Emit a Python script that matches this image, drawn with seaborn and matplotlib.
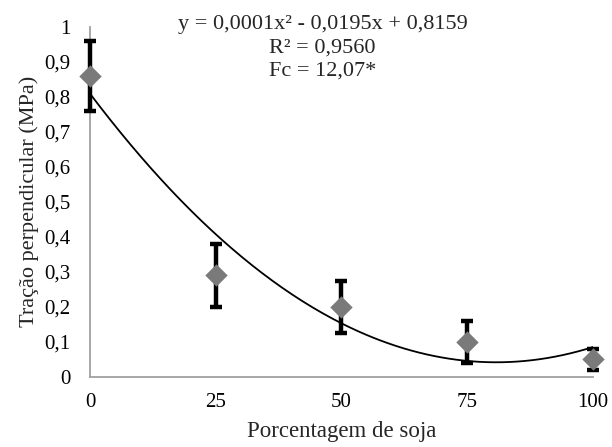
import numpy as np
import pandas as pd
import matplotlib.pyplot as plt
import seaborn as sns

# Data
soja = [0, 25, 50, 75, 100]
tracao = [0.86, 0.29, 0.20, 0.10, 0.05]
erro = [0.10, 0.09, 0.075, 0.06, 0.03]
x_ticks = [0, 25, 50, 75, 100]
y_ticks = [0, 0.1, 0.2, 0.3, 0.4, 0.5, 0.6, 0.7, 0.8, 0.9, 1.0]
equation_text = "y = 0,0001x² - 0,0195x + 0,8159\nR² = 0,9560\nFc = 12,07*"

sns.set_style("white")
plt.rcParams['font.family'] = ['Liberation Serif', 'DejaVu Serif']

df = pd.DataFrame({'soja': soja, 'tracao': tracao, 'erro': erro})

# quadratic trend line fitted to the means
coef = np.polyfit(df['soja'], df['tracao'], 2)
xs = np.linspace(0, 100, 200)
trend = pd.DataFrame({'soja': xs, 'tracao': np.polyval(coef, xs)})

fig = plt.figure(figsize=(6.12, 4.47), dpi=100)
ax = fig.add_axes([0.147, 0.157, 0.822, 0.783])

sns.lineplot(data=trend, x='soja', y='tracao', color='black', linewidth=1.3, ax=ax, zorder=2)
ax.errorbar(df['soja'], df['tracao'], yerr=df['erro'], fmt='none', ecolor='black',
            elinewidth=3.2, capsize=4, capthick=3.2, zorder=3, clip_on=False)
sns.scatterplot(data=df, x='soja', y='tracao', marker='D', s=130, color='#7a7a7a',
                edgecolor='#7a7a7a', linewidth=0, ax=ax, zorder=4, clip_on=False)

ax.set_xlim(0, 100)
ax.set_ylim(0, 1)
ax.set_xticks(x_ticks)
ax.set_yticks(y_ticks)
ax.set_xticklabels([str(v) for v in x_ticks])
ax.set_yticklabels([('%g' % v).replace('.', ',') for v in y_ticks])

for side in ['top', 'right']:
    ax.spines[side].set_visible(False)
for side in ['left', 'bottom']:
    ax.spines[side].set_color('#a0a0a0')
    ax.spines[side].set_linewidth(1.3)
ax.tick_params(axis='both', direction='out', length=5, width=1.3, color='#a0a0a0',
               labelsize=15, labelcolor='black')
ax.tick_params(axis='y', pad=9)
ax.tick_params(axis='x', pad=7)

ax.set_xlabel('Porcentagem de soja', fontsize=16.5, labelpad=6)
ax.set_ylabel('Tração perpendicular (MPa)', fontsize=16, labelpad=4)

ax.text(46.2, 0.94, equation_text, ha='center', va='center',
        fontsize=16, linespacing=1.28)

fig.savefig('out.png', dpi=100)
